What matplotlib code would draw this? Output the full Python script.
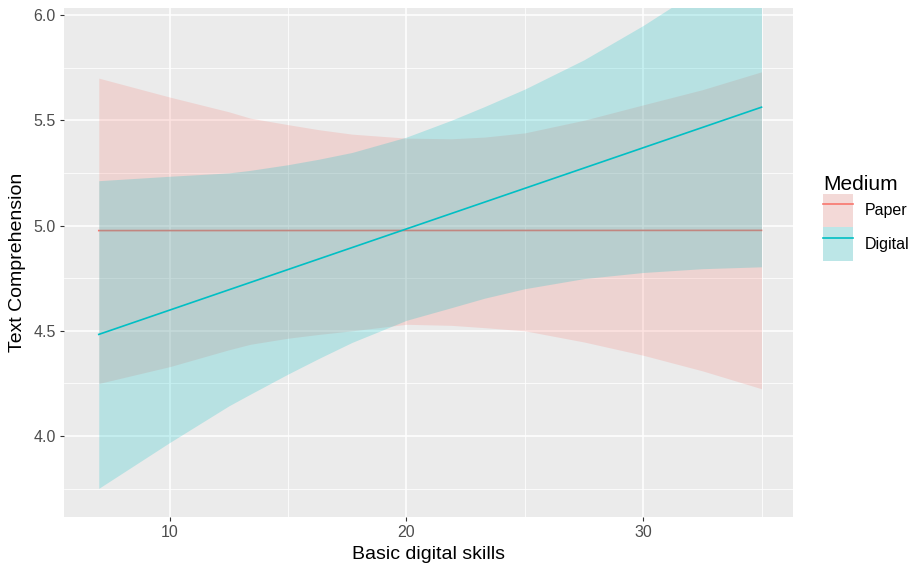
import matplotlib as mpl
mpl.use('Agg')
from matplotlib import pyplot as plt
from matplotlib.patches import Patch
from matplotlib.lines import Line2D
from matplotlib.legend_handler import HandlerTuple

plt.rcParams['font.family'] = ['Liberation Sans', 'DejaVu Sans']

# values
skills = [7, 10, 12.5, 13.4, 15, 16.3, 17.7, 20, 21.9, 23.3, 25, 27.5, 30, 32.5, 35]
paper_hi = [5.70, 5.61, 5.54, 5.51, 5.479, 5.455, 5.434, 5.415, 5.412, 5.42, 5.44,
            5.50, 5.573, 5.645, 5.73]
paper_lo = [4.25, 4.33, 4.41, 4.436, 4.465, 4.483, 4.50, 4.531, 4.526, 4.515, 4.50,
            4.447, 4.384, 4.31, 4.225]
digital_hi = [5.213, 5.234, 5.25, 5.262, 5.289, 5.315, 5.347, 5.42, 5.50, 5.565, 5.648,
              5.787, 5.95, 6.13, 6.31]
digital_lo = [3.752, 3.97, 4.144, 4.199, 4.295, 4.369, 4.445, 4.55, 4.61, 4.655, 4.70,
              4.748, 4.777, 4.795, 4.804]

line_x = [7, 35]
paper_fit = [4.976, 4.977]
digital_fit = [4.483, 5.562]

x_major = [10, 20, 30]
x_minor = [5, 15, 25, 35]
y_major = [4.0, 4.5, 5.0, 5.5, 6.0]
y_minor = [3.75, 4.25, 4.75, 5.25, 5.75]

red = '#F8766D'
teal = '#00BFC4'
alpha = 0.2

fig = plt.figure(figsize=(9.14, 5.67), dpi=100)
ax = fig.add_axes([0.070, 0.0882, 0.7976, 0.8977])
ax.set_facecolor('#EBEBEB')
for s in ax.spines.values():
    s.set_visible(False)

# grid
for v in x_minor:
    ax.axvline(v, color='white', lw=0.55, zorder=0)
for v in y_minor:
    ax.axhline(v, color='white', lw=0.55, zorder=0)
for v in x_major:
    ax.axvline(v, color='white', lw=1.1, zorder=0)
for v in y_major:
    ax.axhline(v, color='white', lw=1.1, zorder=0)

ax.fill_between(skills, paper_lo, paper_hi, color=red, alpha=alpha, lw=0, zorder=1)
ax.plot(line_x, paper_fit, color=red, lw=1.2, zorder=2)
ax.fill_between(skills, digital_lo, digital_hi, color=teal, alpha=alpha + 0.02, lw=0, zorder=3)
ax.plot(line_x, digital_fit, color=teal, lw=1.2, zorder=4)

ax.set_xlim(5.53, 36.33)
ax.set_ylim(3.616, 6.033)
ax.set_xticks(x_major)
ax.set_xticklabels([str(v) for v in x_major])
ax.set_yticks(y_major)
ax.set_yticklabels(['%.1f' % v for v in y_major])
ax.tick_params(axis='both', colors='#333333', labelcolor='#4D4D4D', labelsize=11.5,
               length=3, width=0.8, pad=3)

ax.set_xlabel('Basic digital skills', fontsize=14, color='black', labelpad=4)
ax.set_ylabel('Text Comprehension', fontsize=14, color='black', labelpad=5)

handles = []
for c, a in [(red, alpha), (teal, alpha + 0.02)]:
    handles.append((Patch(facecolor='#F2F2F2', edgecolor='none'),
                    Patch(facecolor=c, alpha=a, edgecolor='none'),
                    Line2D([], [], color=c, lw=1.2)))
leg = fig.legend(handles, ['Paper', 'Digital'], title='Medium',
                 handler_map={tuple: HandlerTuple(ndivide=1, pad=0)},
                 loc='upper left', bbox_to_anchor=(0.9005, 0.692),
                 frameon=False, fontsize=11.5, title_fontsize=15,
                 handlelength=1.9, handleheight=2.85, labelspacing=0.0,
                 handletextpad=0.7, borderpad=0, borderaxespad=0)
leg._legend_box.align = 'left'

fig.savefig('out.png', dpi=100)
